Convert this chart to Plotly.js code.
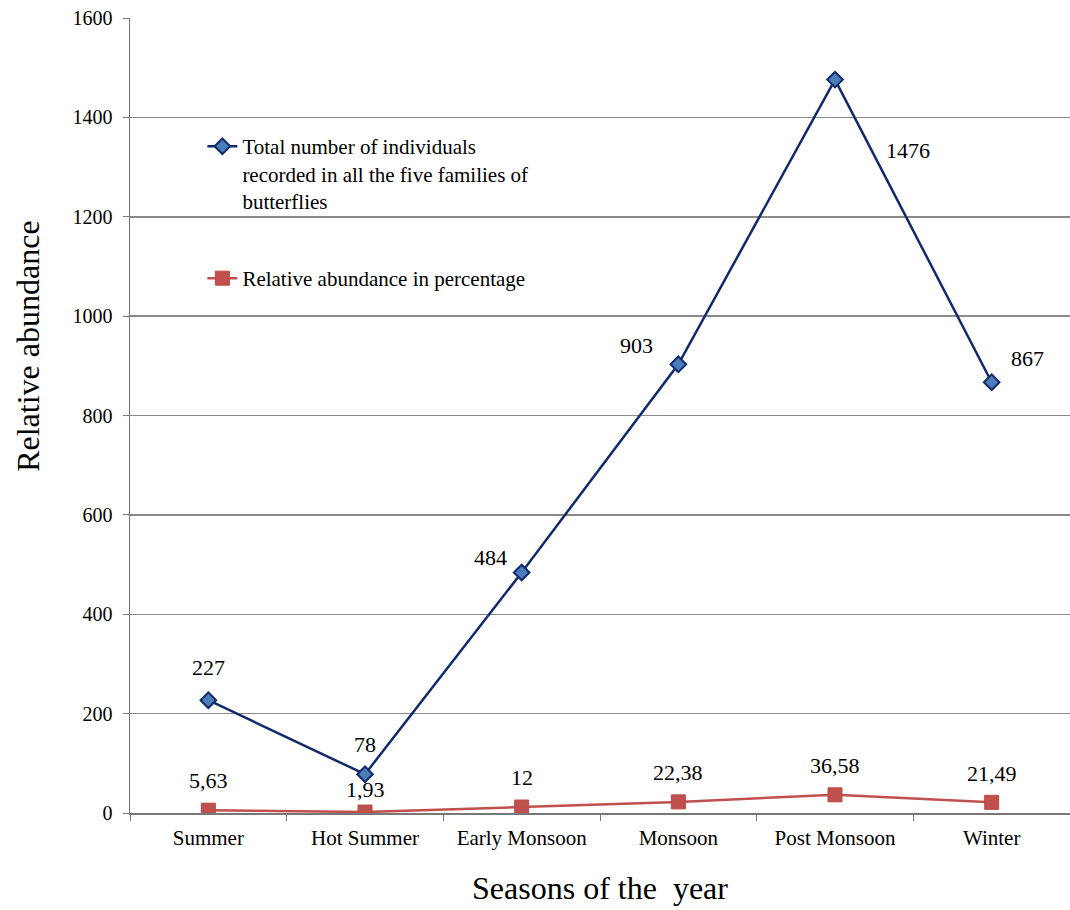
<!DOCTYPE html>
<html>
<head>
<meta charset="utf-8">
<script src="https://cdn.plot.ly/plotly-3.0.1.min.js"></script>
<style>html,body{margin:0;padding:0;background:#fff;}#chart{width:1070px;height:910px;}</style>
</head>
<body>
<div id="chart"></div>
<script>
const seasons = ["Summer", "Hot Summer", "Early Monsoon", "Monsoon", "Post Monsoon", "Winter"];
const totalIndividuals = [227, 78, 484, 903, 1476, 867];
const relativePct = [5.63, 1.93, 12, 22.38, 36.58, 21.49];
const totalLabels = ["227", "78", "484", "903", "1476", "867"];
const pctLabels = ["5,63", "1,93", "12", "22,38", "36,58", "21,49"];
const totalName = "Total number of individuals<br>recorded in all the five families of<br>butterflies";
const pctName = "Relative abundance in percentage";
const xTitle = "Seasons of the\u00a0 year";
const yTitle = "Relative abundance";

// label offsets (px) relative to each point
const totalShift = [[0, 33], [0, 30], [-31, 15], [-42, 19], [73, -71], [36, 24]];
const pctShift = [[0, 30], [0, 23], [0, 30], [0, 29], [0, 29], [0, 29]];

const FONT = '"Liberation Serif", "Times New Roman", serif';

const traces = [
  {
    x: seasons, y: totalIndividuals, name: totalName, type: "scatter", mode: "lines+markers",
    legendgroup: "a",
    line: {color: "#112a6b", width: 2.5},
    marker: {symbol: "diamond", size: 12, color: "#4a7ebb", line: {color: "#112a6b", width: 2}}
  },
  {
    x: seasons, y: relativePct, name: pctName, type: "scatter", mode: "lines+markers",
    legendgroup: "b",
    line: {color: "#c0504d", width: 2.5},
    marker: {symbol: "square", size: 14, color: "#c0504d", line: {color: "#b84845", width: 1}}
  }
];

const annotations = [];
seasons.forEach((s, i) => {
  annotations.push({x: s, y: totalIndividuals[i], text: totalLabels[i], showarrow: false,
    xshift: totalShift[i][0], yshift: totalShift[i][1], font: {family: FONT, size: 22, color: "#000"}});
  annotations.push({x: s, y: relativePct[i], text: pctLabels[i], showarrow: false,
    xshift: pctShift[i][0], yshift: pctShift[i][1], font: {family: FONT, size: 22, color: "#000"}});
});
annotations.push({xref: "paper", yref: "paper", x: -0.108, y: 0.587, xanchor: "center", yanchor: "middle",
  textangle: -90, text: yTitle, showarrow: false, font: {family: FONT, size: 32, color: "#000"}});

const layout = {
  width: 1070, height: 910,
  margin: {l: 130, r: 0, t: 18, b: 97},
  paper_bgcolor: "#fff", plot_bgcolor: "#fff",
  font: {family: FONT, size: 21, color: "#000"},
  showlegend: true,
  legend: {
    x: 0.077, y: 0.864, xanchor: "left", yanchor: "top",
    bgcolor: "rgba(0,0,0,0)", valign: "top",
    traceorder: "grouped", tracegroupgap: 47,
    font: {family: FONT, size: 21, color: "#000"}
  },
  xaxis: {
    type: "category", range: [-0.5, 5.5],
    tickson: "boundaries", ticks: "outside", ticklen: 6, tickcolor: "#777",
    showline: true, linecolor: "#777", linewidth: 1.5,
    showgrid: false, zeroline: false, ticklabelstandoff: 5,
    tickfont: {family: FONT, size: 21, color: "#000"},
    title: {text: xTitle, font: {family: FONT, size: 32, color: "#000"}, standoff: 28}
  },
  yaxis: {
    range: [0, 1600], dtick: 200,
    ticks: "outside", ticklen: 6, tickcolor: "#777",
    showline: true, linecolor: "#777", linewidth: 1.5,
    showgrid: true, gridcolor: "#8a8a8a", gridwidth: 1.5, zeroline: false,
    ticklabelstandoff: 6,
    tickfont: {family: FONT, size: 20, color: "#000"}
  },
  annotations: annotations
};

Plotly.newPlot("chart", traces, layout, {displayModeBar: false, staticPlot: true});
</script>
</body>
</html>
